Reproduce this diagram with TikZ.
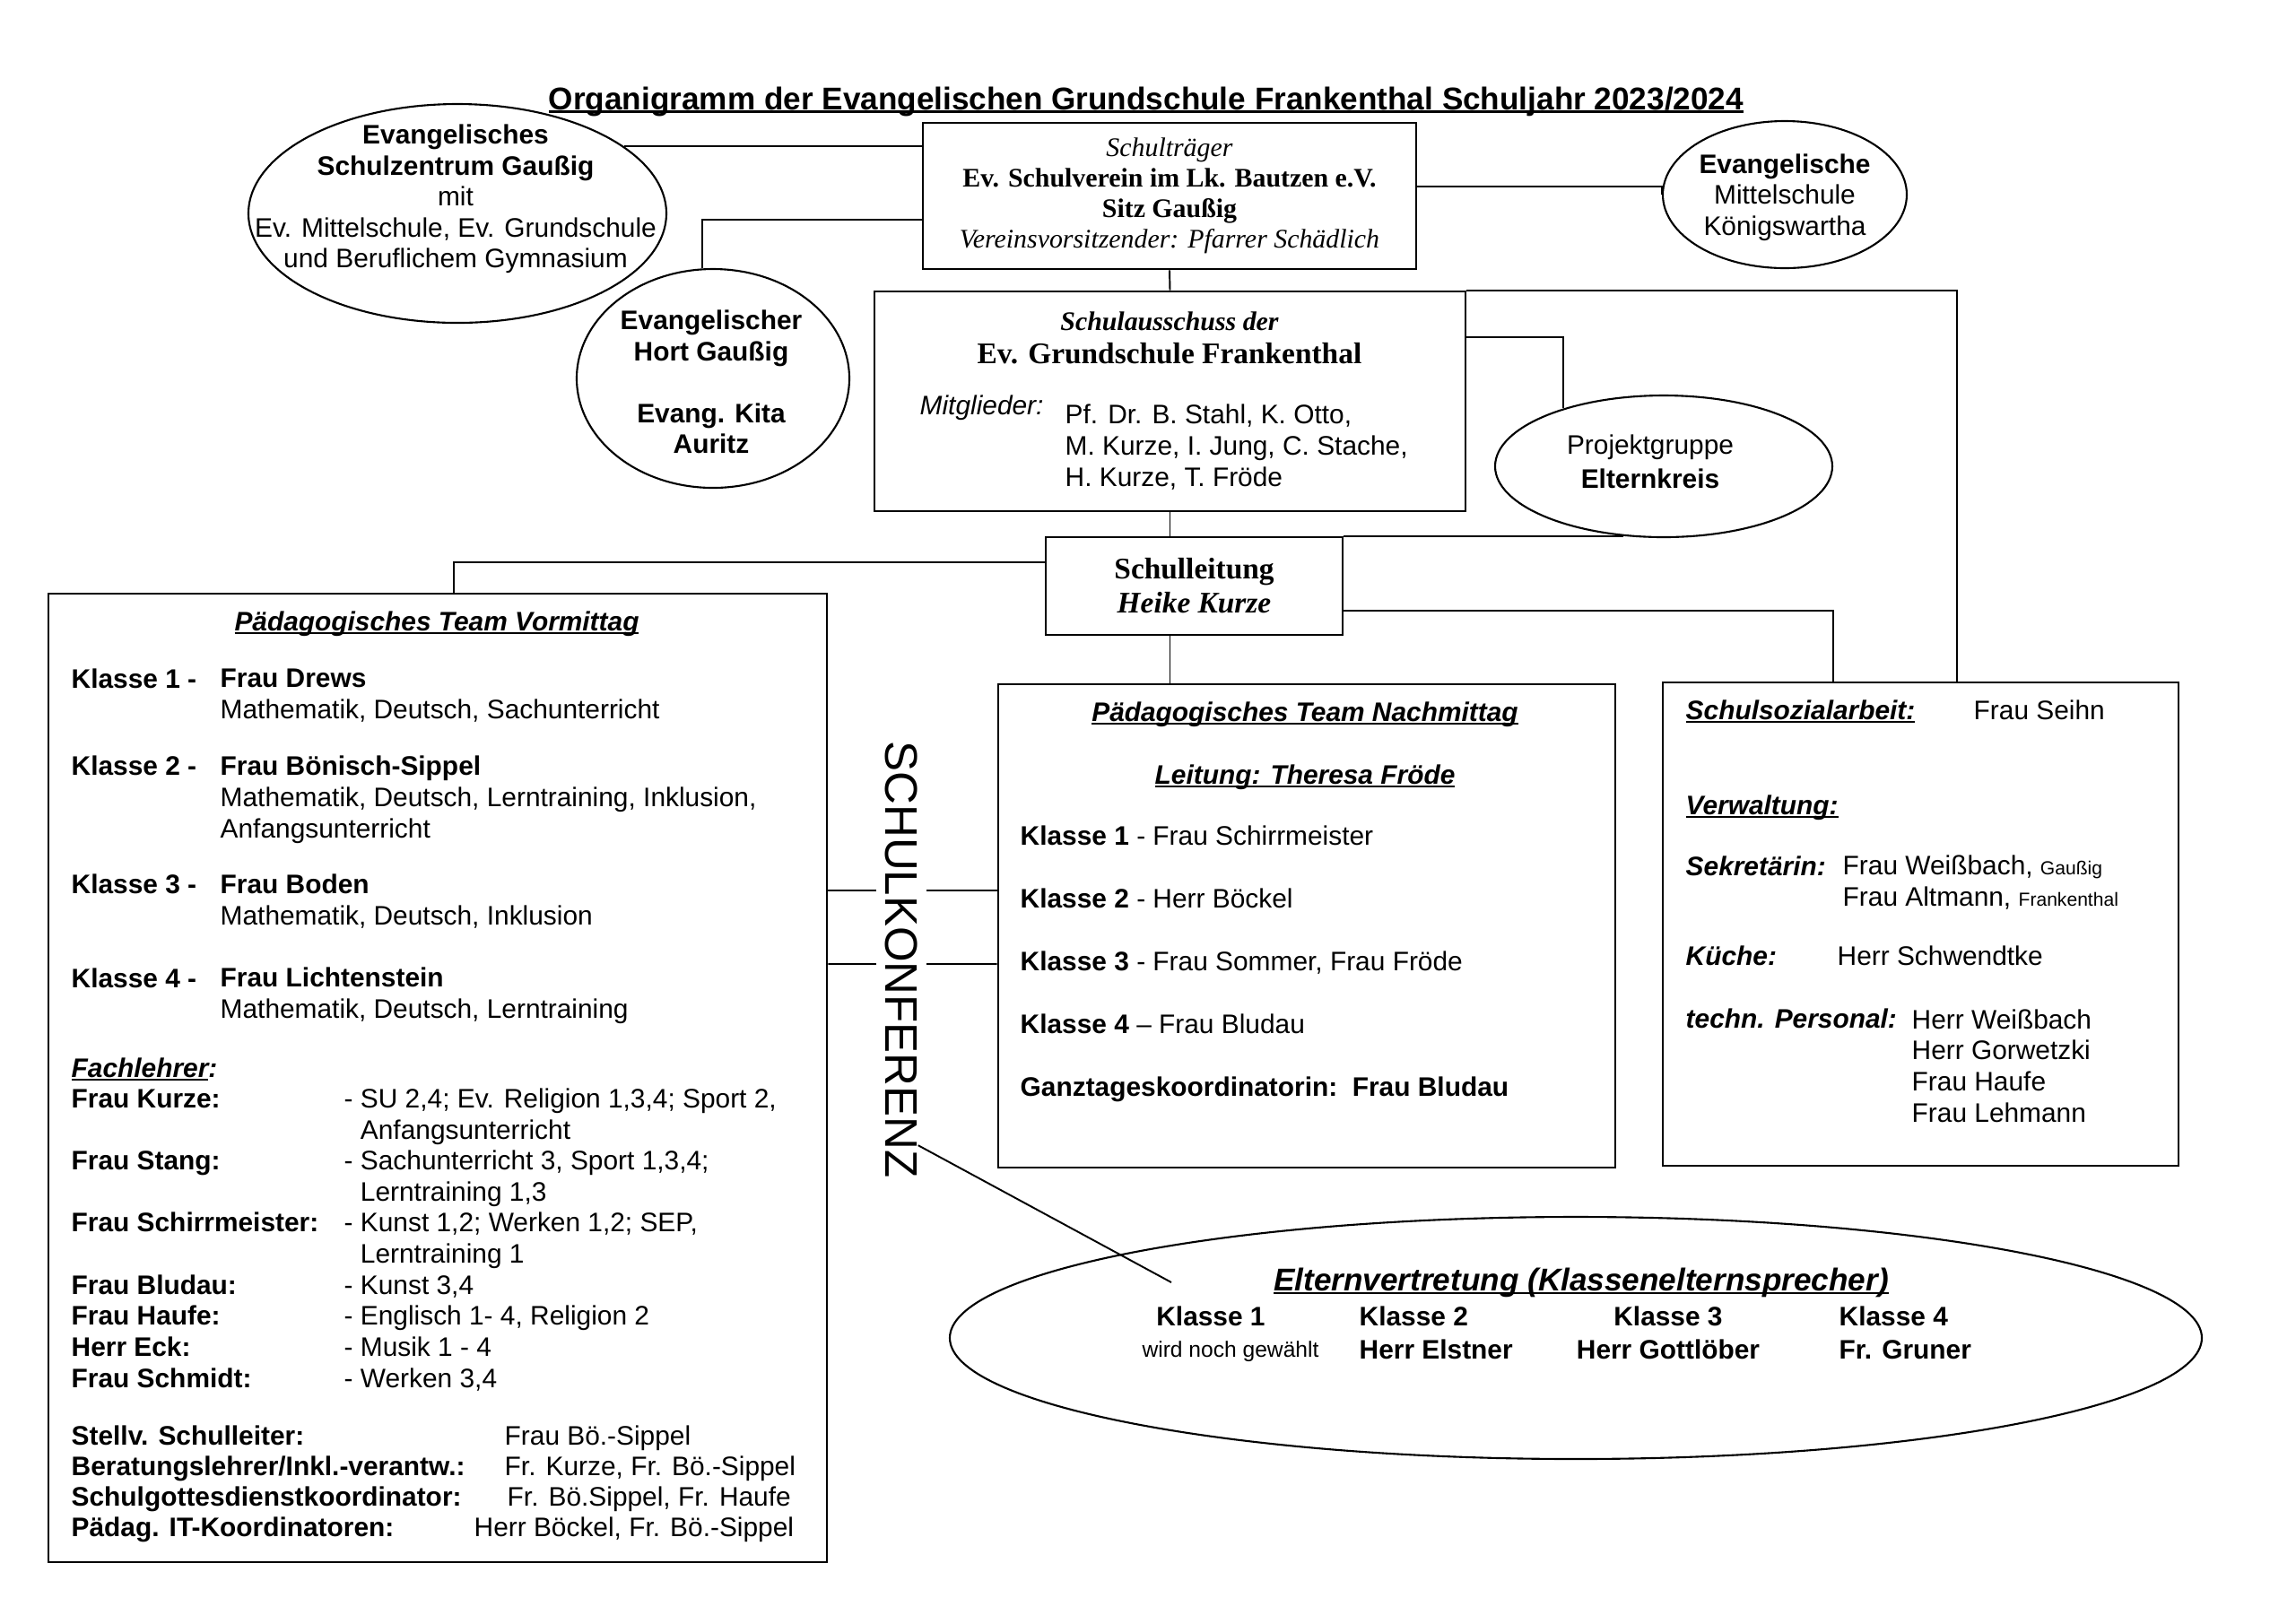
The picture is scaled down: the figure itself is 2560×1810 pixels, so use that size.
\documentclass[tikz,border=0pt]{standalone}
\usepackage{fontspec}
\setmainfont{Liberation Sans}
\newfontfamily\timesschrift{Liberation Serif}
\usetikzlibrary{shapes.geometric,calc}

% Schriftgroessen und Unterstreichung
\newcommand{\grund}{\fontsize{8.5}{9.85}\selectfont}
\newcommand{\klein}{\fontsize{6}{7}\selectfont}
\newcommand{\wahl}{\fontsize{7}{8}\selectfont}
\newcommand{\unterstr}[2][0.55pt]{\setbox0\hbox{#2}\rlap{\copy0}\rule[-1.2pt]{\wd0}{#1}}

\begin{document}
\begin{tikzpicture}[x=0.1mm, y=-0.1mm, font=\grund,
    kasten/.style={draw, line width=0.8pt, inner sep=0pt},
    oval/.style={draw, ellipse, line width=0.6pt, inner sep=0pt},
    linie/.style={line width=0.55pt},
    txt/.style={anchor=base west, inner sep=0pt, align=left},
    mitte/.style={anchor=base, inner sep=0pt, align=center},
    elternspalte/.style={txt, font=\fontsize{8.5}{10.5}\selectfont\bfseries}]

    % --- Seite ---
    \fill[white] (0,0) rectangle (2560,1810);
    \useasboundingbox (0,0) rectangle (2560,1810);

    % --- Titel ---
    \node[mitte, font=\fontsize{10}{12}\selectfont\bfseries] (titel) at (1278,122)
        {\unterstr[0.85pt]{Organigramm der Evangelischen Grundschule Frankenthal Schuljahr 2023/2024}};

    % --- Kaesten ---
    \node[kasten, minimum width=55mm, minimum height=16.3mm, align=center,
          font=\timesschrift\fontsize{8.5}{9.7}\selectfont] (traeger) at (1304,218.5)
        {\textit{Schulträger}\\\textbf{Ev. Schulverein im Lk. Bautzen e.V.}\\\textbf{Sitz Gaußig}\\\textit{Vereinsvorsitzender: Pfarrer Schädlich}};
    \node[kasten, minimum width=65.9mm, minimum height=24.5mm] (ausschuss) at (1304.5,447.5) {};
    \node[kasten, minimum width=33.1mm, minimum height=10.9mm, align=center,
          font=\timesschrift\bfseries\fontsize{9.5}{10.8}\selectfont] (leitung) at (1331.5,653.5)
        {Schulleitung\\\textit{Heike Kurze}};
    \node[kasten, minimum width=86.8mm, minimum height=108mm] (vormittag) at (488,1202) {};
    \node[kasten, minimum width=68.8mm, minimum height=53.9mm] (nachmittag) at (1457,1032.5) {};
    \node[kasten, minimum width=57.5mm, minimum height=53.9mm] (sozial) at (2141.5,1030.5) {};

    % --- Ellipsen ---
    \node[oval, minimum width=46.6mm, minimum height=24.4mm] (zentrum) at (510,238) {};
    \node[oval, minimum width=30.4mm, minimum height=24.4mm] (hort) at (795,422) {};
    \node[oval, minimum width=27.2mm, minimum height=16.4mm] (koenigs) at (1990,217) {};
    \node[oval, minimum width=37.6mm, minimum height=15.8mm] (elternkreis) at (1855,520) {};
    \node[oval, minimum width=139.6mm, minimum height=27mm] (eltern) at (1757,1492) {};

    % --- Texte in den Ellipsen ---
    \node[align=center, inner sep=0pt] (zentrumtext) at (508,222)
        {\textbf{Evangelisches}\\\textbf{Schulzentrum Gaußig}\\mit\\Ev. Mittelschule, Ev. Grundschule\\und Beruflichem Gymnasium};
    \node[align=center, inner sep=0pt, font=\grund\bfseries] (horttext) at (793,426)
        {Evangelischer\\Hort Gaußig\\[9.85pt]Evang. Kita\\Auritz};
    \node[align=center, inner sep=0pt] (koenigstext) at (1990,220)
        {\textbf{Evangelische}\\Mittelschule\\Königswartha};
    \node[align=center, inner sep=0pt, font=\fontsize{8.5}{10.8}\selectfont] (elternkreistext) at (1840,515)
        {Projektgruppe\\\textbf{Elternkreis}};

    % --- Schulausschuss ---
    \node[mitte, font=\timesschrift\bfseries\itshape\grund] (ausschusskopf) at (1304,368) {Schulausschuss der};
    \node[mitte, font=\timesschrift\bfseries\fontsize{9.5}{11}\selectfont] (ausschussname) at (1304,405) {Ev. Grundschule Frankenthal};
    \node[txt, font=\grund\itshape] (mitglieder) at (1025,462) {Mitglieder:};
    % mehrzeilige Knoten: base = letzte Zeile
    \node[txt, font=\fontsize{8.5}{9.95}\selectfont] (mitgliedernamen) at (1187,542)
        {Pf. Dr. B. Stahl, K. Otto,\\M. Kurze, I. Jung, C. Stache,\\H. Kurze, T. Fröde};

    % --- Paedagogisches Team Vormittag ---
    \node[mitte, font=\grund\bfseries\itshape] (vmkopf) at (487,703) {\unterstr{Pädagogisches Team Vormittag}};
    \node[txt, font=\grund\bfseries] (vmk1) at (79,767) {Klasse 1 -};
    \node[txt] (vmk1lehrer) at (245,801) {\textbf{Frau Drews}\\Mathematik, Deutsch, Sachunterricht};
    \node[txt, font=\grund\bfseries] (vmk2) at (79,864) {Klasse 2 -};
    \node[txt] (vmk2lehrer) at (245,934) {\textbf{Frau Bönisch-Sippel}\\Mathematik, Deutsch, Lerntraining, Inklusion,\\Anfangsunterricht};
    \node[txt, font=\grund\bfseries] (vmk3) at (79,996) {Klasse 3 -};
    \node[txt] (vmk3lehrer) at (245,1031) {\textbf{Frau Boden}\\Mathematik, Deutsch, Inklusion};
    \node[txt, font=\grund\bfseries] (vmk4) at (79,1101) {Klasse 4 -};
    \node[txt] (vmk4lehrer) at (245,1135) {\textbf{Frau Lichtenstein}\\Mathematik, Deutsch, Lerntraining};

    % Fachlehrer
    \node[txt, font=\grund\bfseries\itshape] (fachlehrer) at (79,1201) {\unterstr{Fachlehrer}:};
    \node[txt, font=\grund\bfseries] (fachnamen) at (79,1547)
        {Frau Kurze:\\[9.85pt]Frau Stang:\\[9.85pt]Frau Schirrmeister:\\[9.85pt]Frau Bludau:\\Frau Haufe:\\Herr Eck:\\Frau Schmidt:};
    \node[txt] (fachwerte) at (383,1547)
        {- SU 2,4; Ev. Religion 1,3,4; Sport 2,\\\phantom{- }Anfangsunterricht\\- Sachunterricht 3, Sport 1,3,4;\\\phantom{- }Lerntraining 1,3\\- Kunst 1,2; Werken 1,2; SEP,\\\phantom{- }Lerntraining 1\\- Kunst 3,4\\- Englisch 1- 4, Religion 2\\- Musik 1 - 4\\- Werken 3,4};

    % Funktionen
    \node[txt, font=\fontsize{8.5}{9.6}\selectfont\bfseries] (funktionen) at (79,1713)
        {Stellv. Schulleiter:\\Beratungslehrer/Inkl.-verantw.:\\Schulgottesdienstkoordinator:\\Pädag. IT-Koordinatoren:};
    \node[txt, font=\fontsize{8.5}{9.6}\selectfont] (funktionswerte) at (562,1713)
        {Frau Bö.-Sippel\\Fr. Kurze, Fr. Bö.-Sippel\\\hspace*{0.3mm}Fr. Bö.Sippel, Fr. Haufe\\\hspace*{-3.4mm}Herr Böckel, Fr. Bö.-Sippel};

    % --- Paedagogisches Team Nachmittag ---
    \node[mitte, font=\grund\bfseries\itshape] (nmkopf) at (1455,804) {\unterstr{Pädagogisches Team Nachmittag}};
    \node[mitte, font=\grund\bfseries\itshape] (nmleitung) at (1455,874) {\unterstr{Leitung: Theresa Fröde}};
    \node[txt, font=\fontsize{8.5}{19.9}\selectfont] (nmklassen) at (1137,1222)
        {\textbf{Klasse 1} - Frau Schirrmeister\\\textbf{Klasse 2} - Herr Böckel\\\textbf{Klasse 3} - Frau Sommer, Frau Fröde\\\textbf{Klasse 4} – Frau Bludau\\\textbf{Ganztageskoordinatorin:\ \ Frau Bludau}};

    % --- Schulsozialarbeit und Verwaltung ---
    \node[txt, font=\grund\bfseries\itshape] (sozialkopf) at (1879,802) {\unterstr{Schulsozialarbeit:}};
    \node[txt] (seihn) at (2200,802) {Frau Seihn};
    \node[txt, font=\grund\bfseries\itshape] (verwaltung) at (1879,908) {\unterstr{Verwaltung:}};
    \node[txt, font=\grund\bfseries\itshape] (sekretaerin) at (1879,976) {Sekretärin:};
    \node[txt] (sekretaerinnen) at (2054,1010) {Frau Weißbach, {\klein Gaußig}\\Frau Altmann, {\klein Frankenthal}};
    \node[txt, font=\grund\bfseries\itshape] (kueche) at (1879,1076) {Küche:};
    \node[txt] (koch) at (2048,1076) {Herr Schwendtke};
    \node[txt, font=\grund\bfseries\itshape] (technik) at (1879,1146) {techn. Personal:};
    \node[txt] (techniker) at (2131,1251) {Herr Weißbach\\Herr Gorwetzki\\Frau Haufe\\Frau Lehmann};

    % --- Elternvertretung ---
    \node[mitte, font=\fontsize{10}{12}\selectfont\bfseries\itshape] (elternkopf) at (1763,1439)
        {\unterstr[0.7pt]{Elternvertretung (Klassenelternsprecher)}};
    \node[mitte, font=\grund\bfseries] (ek1) at (1350,1478) {Klasse 1};
    \node[mitte, font=\wahl] (ek1name) at (1372,1513) {wird noch gewählt};
    \node[elternspalte] (ek2) at (1515,1515) {Klasse 2\\Herr Elstner};
    \node[elternspalte, anchor=base, align=center] (ek3) at (1860,1515) {Klasse 3\\Herr Gottlöber};
    \node[elternspalte] (ek4) at (2050,1515) {Klasse 4\\Fr. Gruner};

    % --- Verbindungen ---
    \draw[linie] (zentrum.22) -- (zentrum.22 -| traeger.west);
    \draw[linie] ($(traeger.west)+(0,26.5)$) -| ($(hort.north)+(-12,0)$);
    \draw[linie] ($(traeger.east)+(0,-10.5)$) -| (koenigs.west);
    \draw[linie] (traeger.south) -- (ausschuss.north);
    \draw[linie] (ausschuss.north east) -| ($(sozial.north)+(40.5,0)$);
    \draw[linie] ($(ausschuss.east)+(0,-71.5)$) -| (elternkreis.150);
    \draw[linie] (ausschuss.south) -- (ausschuss.south |- leitung.north);
    \draw[linie] (leitung.north east) -- (leitung.north east -| elternkreis.240);
    \draw[linie] ($(leitung.west)+(0,-26.5)$) -| ($(vormittag.north)+(18,0)$);
    \draw[linie] ($(leitung.east)+(0,27.5)$) -| ($(sozial.north)+(-97.5,0)$);
    \draw[linie] (ausschuss.south |- leitung.south) -- (ausschuss.south |- nachmittag.north);

    % --- Schulkonferenz ---
    \draw[linie] ($(vormittag.east)+(0,-209)$) -- ($(nachmittag.west)+(0,-39.5)$);
    \draw[linie] ($(vormittag.east)+(0,-127)$) -- ($(nachmittag.west)+(0,42.5)$);
    \node[fill=white, inner sep=1mm, rotate=-90, font=\fontsize{14.5}{16}\selectfont] (konferenz) at (1005,1070) {SCHULKONFERENZ};
    \coordinate (zeiger) at (1306,1430);
    \draw[linie] ($(konferenz.north east)+(-10,-47)$) -- (zeiger);

\end{tikzpicture}
\end{document}
